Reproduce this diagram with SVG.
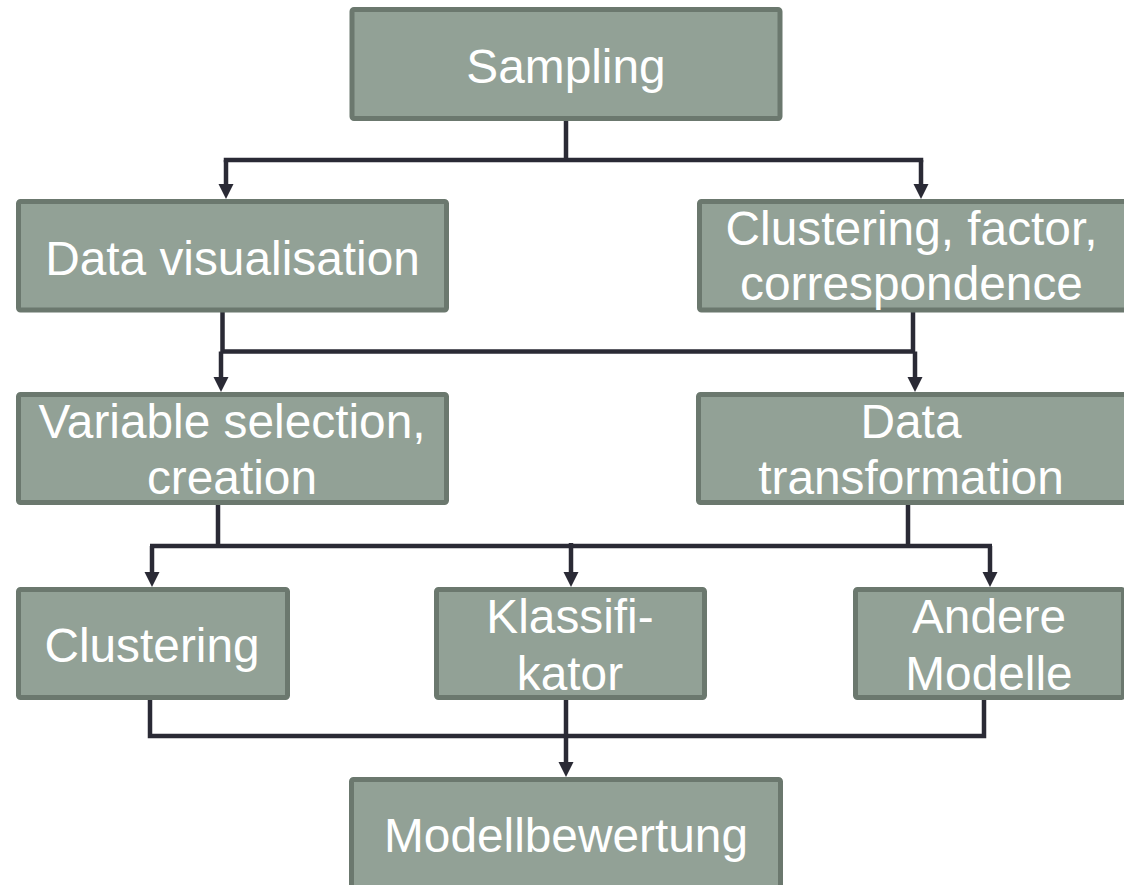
<svg xmlns="http://www.w3.org/2000/svg" width="1124" height="885" viewBox="0 0 1124 885">
<style>
.box{fill:#92a196;stroke:#6b786e;stroke-width:5}
.lbl{font-family:"Liberation Sans",Arial,sans-serif;font-size:47.8px;fill:#ffffff;text-anchor:middle}
.ln{fill:none;stroke:#2a2a35;stroke-width:4.5;stroke-linejoin:miter}
</style>
<defs>
<marker id="arr" markerUnits="userSpaceOnUse" markerWidth="15" markerHeight="16" viewBox="0 0 15 16" refX="7" refY="8" orient="auto">
<path d="M0,0.5 L15,8 L0,15.5 Z" fill="#2a2a35"/>
</marker>
</defs>
<rect width="1124" height="885" fill="#ffffff"/>
<g id="connectors">
<path class="ln" d="M566,120 V160 M223.75,160 H923.25"/>
<path class="ln" d="M226,160 V191" marker-end="url(#arr)"/>
<path class="ln" d="M921,160 V191" marker-end="url(#arr)"/>
<path class="ln" d="M222.5,312 V352 M913,312 V352 M220.5,351.5 H915"/>
<path class="ln" d="M221,351.5 V384" marker-end="url(#arr)"/>
<path class="ln" d="M915,351.5 V384" marker-end="url(#arr)"/>
<path class="ln" d="M218,505 V548 M908,505 V546 M150,546 H992"/>
<path class="ln" d="M152,546 V579" marker-end="url(#arr)"/>
<path class="ln" d="M571,543 V579" marker-end="url(#arr)"/>
<path class="ln" d="M990,546 V579" marker-end="url(#arr)"/>
<path class="ln" d="M150,700 V736 H984 V700"/>
<path class="ln" d="M566,700 V769" marker-end="url(#arr)"/>
</g>
<g id="sampling"><rect class="box" x="352" y="9.5" width="428" height="109" rx="2"/><text class="lbl" x="566" y="83">Sampling</text></g>
<g id="datavis"><rect class="box" x="18.5" y="201.5" width="428" height="108.5" rx="2"/><text class="lbl" x="232.5" y="275">Data visualisation</text></g>
<g id="clusterfactor"><rect class="box" x="699.5" y="201.5" width="428" height="108.5" rx="2"/><text class="lbl" x="911.5" y="245">Clustering, factor,</text><text class="lbl" x="911.5" y="300">correspondence</text></g>
<g id="varsel"><rect class="box" x="18.5" y="394.5" width="428" height="108" rx="2"/><text class="lbl" x="232" y="438">Variable selection,</text><text class="lbl" x="232" y="494">creation</text></g>
<g id="datatrans"><rect class="box" x="698.5" y="394.5" width="428" height="108" rx="2"/><text class="lbl" x="911" y="438">Data</text><text class="lbl" x="911" y="494">transformation</text></g>
<g id="clustering"><rect class="box" x="18.5" y="589.5" width="269" height="108" rx="2"/><text class="lbl" x="152" y="662">Clustering</text></g>
<g id="klassifikator"><rect class="box" x="436.5" y="589.5" width="268" height="108" rx="2"/><text class="lbl" x="570" y="633">Klassifi-</text><text class="lbl" x="570" y="690">kator</text></g>
<g id="andere"><rect class="box" x="855.5" y="589.5" width="268" height="108" rx="2"/><text class="lbl" x="989" y="633">Andere</text><text class="lbl" x="989" y="690">Modelle</text></g>
<g id="modellbewertung"><rect class="box" x="351.5" y="779.5" width="429" height="120" rx="2"/><text class="lbl" x="566" y="852">Modellbewertung</text></g>
</svg>
